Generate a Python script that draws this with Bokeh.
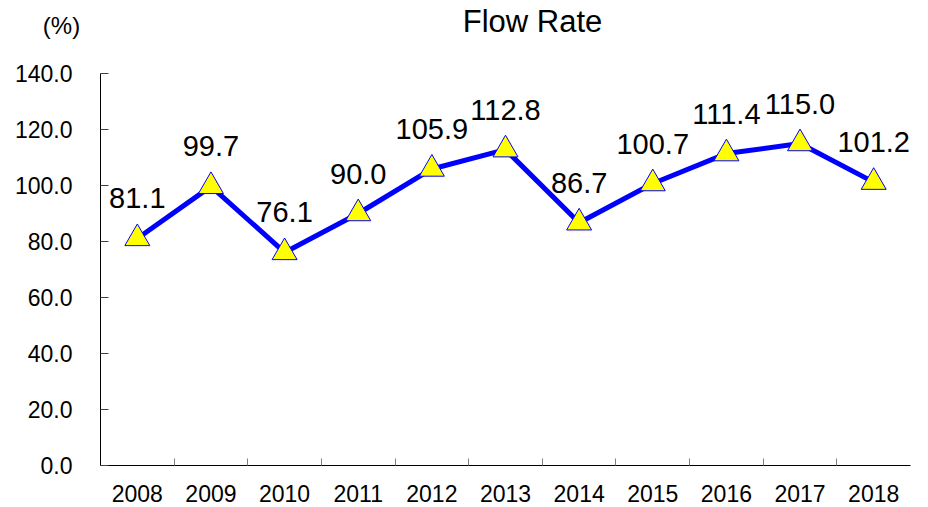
from bokeh.plotting import figure
from bokeh.models import (ColumnDataSource, Range1d, FixedTicker, LabelSet, Label,
                          PrintfTickFormatter)
from bokeh.core.properties import value
from bokeh.embed import file_html
from bokeh.resources import INLINE

# ---- data ----
years = ["2008", "2009", "2010", "2011", "2012", "2013", "2014", "2015", "2016", "2017", "2018"]
flow_rate = [81.1, 99.7, 76.1, 90.0, 105.9, 112.8, 86.7, 100.7, 111.4, 115.0, 101.2]
y_ticks = [0, 20, 40, 60, 80, 100, 120, 140]
title_text = "Flow Rate"
unit_text = "(%)"

FONT = "Liberation Sans"

xs = list(range(len(years)))
src = ColumnDataSource(dict(
    x=xs,
    y=flow_rate,
    label=[f"{v:.1f}" for v in flow_rate],
))

p = figure(width=928, height=507, output_backend="svg", toolbar_location=None,
           title_location=None,
           x_range=Range1d(-0.5, len(years) - 0.5),
           y_range=Range1d(y_ticks[0], y_ticks[-1]),
           min_border_left=100, min_border_right=18, min_border_top=73, min_border_bottom=42)
p.outline_line_color = None
p.xgrid.grid_line_color = None
p.ygrid.grid_line_color = None
p.background_fill_color = "white"
p.border_fill_color = "white"

# x axis: labels at category centres, small ticks at category boundaries
xax = p.xaxis[0]
xax.ticker = FixedTicker(ticks=xs, minor_ticks=[i + 0.5 for i in xs[:-1]])
xax.major_label_overrides = {i: y for i, y in zip(xs, years)}
xax.major_tick_in = 0
xax.major_tick_out = 0
xax.minor_tick_in = 7
xax.minor_tick_out = 0
xax.minor_tick_line_color = "#808080"
xax.axis_line_color = "black"
xax.major_label_text_font = FONT
xax.major_label_text_font_size = "23px"
xax.major_label_text_color = "black"
xax.major_label_standoff = 19

yax = p.yaxis[0]
yax.ticker = FixedTicker(ticks=y_ticks)
yax.formatter = PrintfTickFormatter(format="%.1f")
yax.major_tick_in = 8
yax.major_tick_out = 0
yax.minor_tick_in = 0
yax.minor_tick_out = 0
yax.major_tick_line_color = "#404040"
yax.axis_line_color = "black"
yax.major_label_text_font = FONT
yax.major_label_text_font_size = "23px"
yax.major_label_text_color = "black"
yax.major_label_standoff = 28

p.line("x", "y", source=src, line_color="#0000FF", line_width=5)
p.scatter("x", "y", source=src, marker="triangle", size=25,
          fill_color="#FFFF00", line_color="#0000FF", line_width=1)

labels = LabelSet(x="x", y="y", text="label", source=src, y_offset=30,
                  text_align="center", text_baseline="alphabetic",
                  text_font=value(FONT), text_font_size=value("29px"),
                  text_color="black")
p.add_layout(labels)

title = Label(x=432, y=52, x_units="screen", y_units="screen", text=title_text,
              text_align="center", text_baseline="middle", text_font=FONT,
              text_font_size="31px", text_color="black")
p.add_layout(title, "above")

unit = Label(x=-39, y=13, x_units="screen", y_units="screen", text=unit_text,
             text_align="center", text_baseline="middle", text_font=FONT,
             text_font_size="24px", text_color="black")
p.add_layout(unit, "above")

open("out.html", "w").write(file_html(p, INLINE))
